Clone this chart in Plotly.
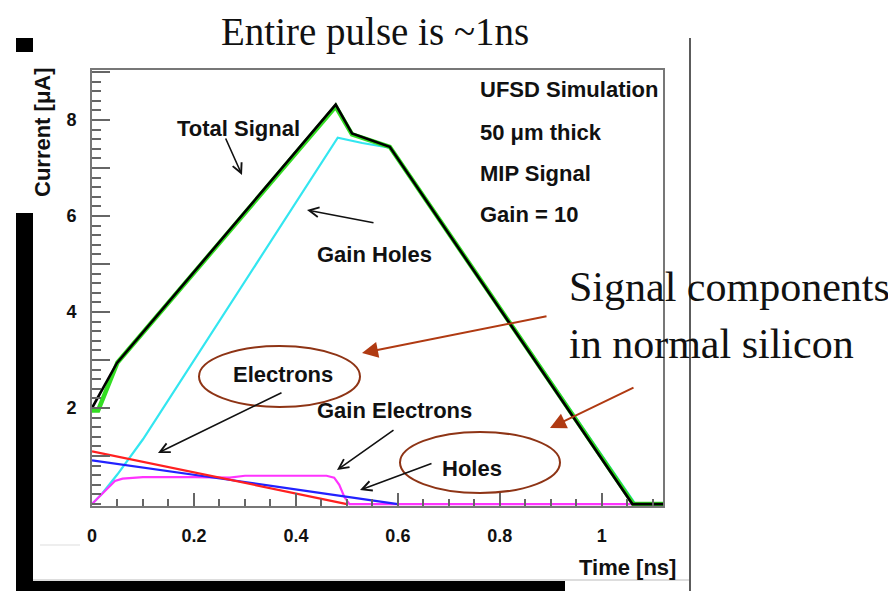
import plotly.graph_objects as go

# ---------------- data ----------------
total_t = [0.0, 0.049, 0.478, 0.51, 0.584, 1.06, 1.12]
total_i = [2.0, 2.94, 8.32, 7.72, 7.44, 0.0, 0.0]

total_alt_t = [0.0, 0.012, 0.05, 0.478, 0.51, 0.584, 1.062, 1.12]
total_alt_i = [1.95, 1.95, 2.95, 8.28, 7.70, 7.44, 0.0, 0.0]

gain_holes_t = [0.0, 0.02, 0.05, 0.1, 0.482, 0.53, 0.584, 1.066, 1.12]
gain_holes_i = [0.0, 0.22, 0.62, 1.35, 7.63, 7.52, 7.42, 0.0, 0.0]

electrons_t = [0.0, 0.49, 0.5]
electrons_i = [1.10, 0.03, 0.0]

holes_t = [0.0, 0.15, 0.3, 0.45, 0.5, 0.55, 0.6]
holes_i = [0.91, 0.69, 0.46, 0.23, 0.15, 0.07, 0.0]

gain_electrons_t = [0.0, 0.045, 0.06, 0.1, 0.2, 0.27, 0.3, 0.4, 0.46, 0.475, 0.485, 0.495, 0.505, 1.06]
gain_electrons_i = [0.0, 0.48, 0.53, 0.56, 0.56, 0.55, 0.59, 0.59, 0.59, 0.55, 0.4, 0.15, 0.0, 0.0]

x_tick_step = 0.2
y_tick_vals = [1, 2, 3, 4, 5, 6, 7, 8, 9]
y_tick_text = ["", "2", "", "4", "", "6", "", "8", ""]

# ---------------- layout geometry (page pixels) ----------------
PAGE_W, PAGE_H = 896, 591
OFF = 8                      # default body margin of the html page
W, H = PAGE_W - OFF, PAGE_H - OFF
L, R, T, B = 92, 663, 70, 506  # plot area in page pixels


def px(x):
    return (x - L) / (R - L)


def py(y):
    return (B - y) / (B - T)


fig = go.Figure()

fig.add_trace(go.Scatter(x=gain_holes_t, y=gain_holes_i, mode="lines",
                         line=dict(color="#33e6f0", width=2.2), name="Gain Holes"))
fig.add_trace(go.Scatter(x=gain_electrons_t, y=gain_electrons_i, mode="lines",
                         line=dict(color="#ff33ff", width=2.2), name="Gain Electrons"))
fig.add_trace(go.Scatter(x=holes_t, y=holes_i, mode="lines",
                         line=dict(color="#2222ff", width=2.2), name="Holes"))
fig.add_trace(go.Scatter(x=electrons_t, y=electrons_i, mode="lines",
                         line=dict(color="#ff2020", width=2.2), name="Electrons"))
fig.add_trace(go.Scatter(x=total_alt_t, y=total_alt_i, mode="lines",
                         line=dict(color="#33dd22", width=4.5), name="Total (sum)"))
fig.add_trace(go.Scatter(x=total_t, y=total_i, mode="lines",
                         line=dict(color="#000000", width=2.6), name="Total Signal"))

axis_font = dict(family="Liberation Sans", size=18, color="#111", weight=700)

fig.update_xaxes(
    range=[0, 1.12], tick0=0, dtick=x_tick_step, ticks="inside", ticklen=13,
    tickwidth=2, tickcolor="#666", showline=True, linecolor="#777", linewidth=2,
    mirror=True, showgrid=False, zeroline=False, tickfont=axis_font,
    ticklabelstandoff=12,
    minor=dict(tick0=0, dtick=0.05, ticks="inside", ticklen=7, tickwidth=2, tickcolor="#666",
               showgrid=False),
)
fig.update_yaxes(
    range=[-0.04, 9.04], tickmode="array", tickvals=y_tick_vals, ticktext=y_tick_text,
    ticks="inside", ticklen=18, tickwidth=2, tickcolor="#666", showline=True,
    linecolor="#777", linewidth=2, mirror=True, showgrid=False, zeroline=False,
    tickfont=axis_font, ticklabelstandoff=10,
    minor=dict(tickmode="linear", tick0=0, dtick=0.2, ticks="inside", ticklen=9, tickwidth=2,
               tickcolor="#666", showgrid=False),
)

shapes = []
# slide decoration: black bars and thin frame lines
shapes.append(dict(type="rect", xref="paper", yref="paper", x0=px(16), x1=px(33), y0=py(52), y1=py(38),
                   fillcolor="black", line=dict(width=0)))
shapes.append(dict(type="rect", xref="paper", yref="paper", x0=px(16), x1=px(33), y0=py(591), y1=py(213),
                   fillcolor="black", line=dict(width=0)))
shapes.append(dict(type="rect", xref="paper", yref="paper", x0=px(16), x1=px(565), y0=py(591), y1=py(581),
                   fillcolor="black", line=dict(width=0)))
shapes.append(dict(type="line", xref="paper", yref="paper", x0=px(33), x1=px(689), y0=py(580), y1=py(580),
                   line=dict(color="#bbbbbb", width=1)))
shapes.append(dict(type="line", xref="paper", yref="paper", x0=px(690), x1=px(690), y0=py(38), y1=py(591),
                   line=dict(color="#333333", width=1.6)))
shapes.append(dict(type="line", xref="paper", yref="paper", x0=px(40), x1=px(80), y0=py(545), y1=py(545),
                   line=dict(color="#dddddd", width=1)))
# ellipses
brown = "#8e3415"
shapes.append(dict(type="circle", xref="paper", yref="paper", x0=px(199), x1=px(360), y0=py(407), y1=py(346),
                   line=dict(color=brown, width=2)))
shapes.append(dict(type="circle", xref="paper", yref="paper", x0=px(400), x1=px(560), y0=py(493), y1=py(432),
                   line=dict(color=brown, width=2)))

annotations = []


def text(x, y, s, size=22, anchor="center", family="Liberation Sans", bold=True, color="#111"):
    annotations.append(dict(x=px(x), y=py(y), xref="paper", yref="paper", text=(f"<b>{s}</b>" if bold else s),
                            showarrow=False, xanchor=anchor, yanchor="middle",
                            font=dict(family=family, size=size, color=color)))


def arrow(tail, head, color="#111", width=1.6, head_style=5, size=1.2):
    annotations.append(dict(x=px(head[0]), y=py(head[1]), xref="paper", yref="paper", text="",
                            showarrow=True, ax=tail[0] - head[0], ay=tail[1] - head[1],
                            arrowcolor=color, arrowwidth=width, arrowhead=head_style, arrowsize=size))


serif = "Liberation Serif"
text(375, 32, "Entire pulse is ~1ns", size=39, family=serif, bold=False, color="#111")
text(567, 287, "Signal components", size=42, anchor="left", family=serif, bold=False, color="#111")
text(567, 344, "in normal silicon", size=42, anchor="left", family=serif, bold=False, color="#111")

text(478, 90, "UFSD Simulation", anchor="left")
text(478, 132, "50 μm thick", anchor="left")
text(478, 173, "MIP Signal", anchor="left")
text(478, 215, "Gain = 10", anchor="left")

text(238, 128, "Total Signal")
text(374, 255, "Gain Holes")
text(283, 374, "Electrons")
text(394, 410, "Gain Electrons")
text(472, 468, "Holes")
text(627, 567, "Time [ns]")
annotations.append(dict(x=px(42), y=py(132), xref="paper", yref="paper", text="<b>Current [μA]</b>",
                        showarrow=False, textangle=-90, xanchor="center", yanchor="middle",
                        font=dict(family="Liberation Sans", size=22, color="#111")))

arrow((225, 137), (242, 175))
arrow((375, 223), (307, 210))
arrow((283, 392), (158, 453))
arrow((395, 429), (337, 470))
arrow((433, 463), (360, 490))
arrow((548, 316), (362, 353), color="#b03a12", width=2, head_style=2, size=1.6)
arrow((635, 387), (550, 428), color="#b03a12", width=2, head_style=2, size=1.6)

fig.update_layout(
    width=W, height=H,
    margin=dict(l=L - OFF, r=PAGE_W - R, t=T - OFF, b=PAGE_H - B),
    paper_bgcolor="white", plot_bgcolor="white", showlegend=False,
    shapes=shapes, annotations=annotations,
)

fig.write_html("out.html")
